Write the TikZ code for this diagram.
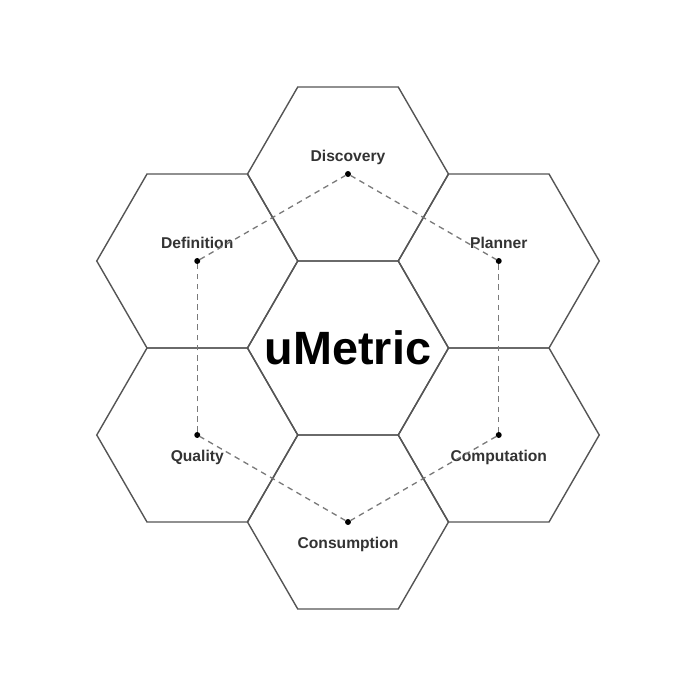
\documentclass[tikz,border=0pt]{standalone}
\usepackage{fontspec}
\setmainfont{Liberation Sans}
\usetikzlibrary{positioning,shapes.geometric}

\definecolor{hexgray}{HTML}{555555}
\definecolor{dashgray}{HTML}{7A7A7A}
\definecolor{textgray}{HTML}{333333}

\begin{document}
\begin{tikzpicture}[x=0.02cm, y=-0.02cm,
        hexcell/.style={regular polygon, regular polygon sides=6, draw=hexgray, line width=0.8pt, minimum size=4.02cm, inner sep=0pt, outer sep=0pt},
        dotnode/.style={circle, fill=black, minimum size=3.4pt, inner sep=0pt, outer sep=0pt},
        lbl/.style={text=textgray, font=\bfseries\fontsize{8.9}{10}\selectfont, inner sep=0pt, outer sep=0pt, text height=6.6pt, text depth=1.9pt},
        link/.style={dashed, dash pattern=on 3.2pt off 2.6pt, draw=dashgray, line width=0.75pt}]
        \useasboundingbox (0,0) rectangle (696,696);

        % Hexagons
        \node[hexcell] (core) at (348,348) {};
        \node[hexcell] (disc) at (348,174) {};
        \node[hexcell] (plan) at (498.75,261) {};
        \node[hexcell] (comp) at (498.75,435) {};
        \node[hexcell] (cons) at (348,522) {};
        \node[hexcell] (qual) at (197.25,435) {};
        \node[hexcell] (defn) at (197.25,261) {};

        \node[font=\bfseries\fontsize{26.6}{30}\selectfont] (title) at (core.center) {uMetric};

        % Dots
        \node[dotnode] (d1) at (disc.center) {};
        \node[dotnode] (d2) at (plan.center) {};
        \node[dotnode] (d3) at (comp.center) {};
        \node[dotnode] (d4) at (cons.center) {};
        \node[dotnode] (d5) at (qual.center) {};
        \node[dotnode] (d6) at (defn.center) {};

        % Labels
        \node[lbl] (l1) [above=3.4pt of d1] {Discovery};
        \node[lbl] (l2) [above=3.4pt of d2] {Planner};
        \node[lbl] (l3) [below=6.8pt of d3] {Computation};
        \node[lbl] (l4) [below=6.8pt of d4] {Consumption};
        \node[lbl] (l5) [below=6.8pt of d5] {Quality};
        \node[lbl] (l6) [above=3.4pt of d6] {Definition};

        % Edges
        \draw[link] (d1) -- (d2);
        \draw[link] (d2) -- (d3);
        \draw[link] (d3) -- (d4);
        \draw[link] (d4) -- (d5);
        \draw[link] (d5) -- (d6);
        \draw[link] (d6) -- (d1);
    \end{tikzpicture}
\end{document}
